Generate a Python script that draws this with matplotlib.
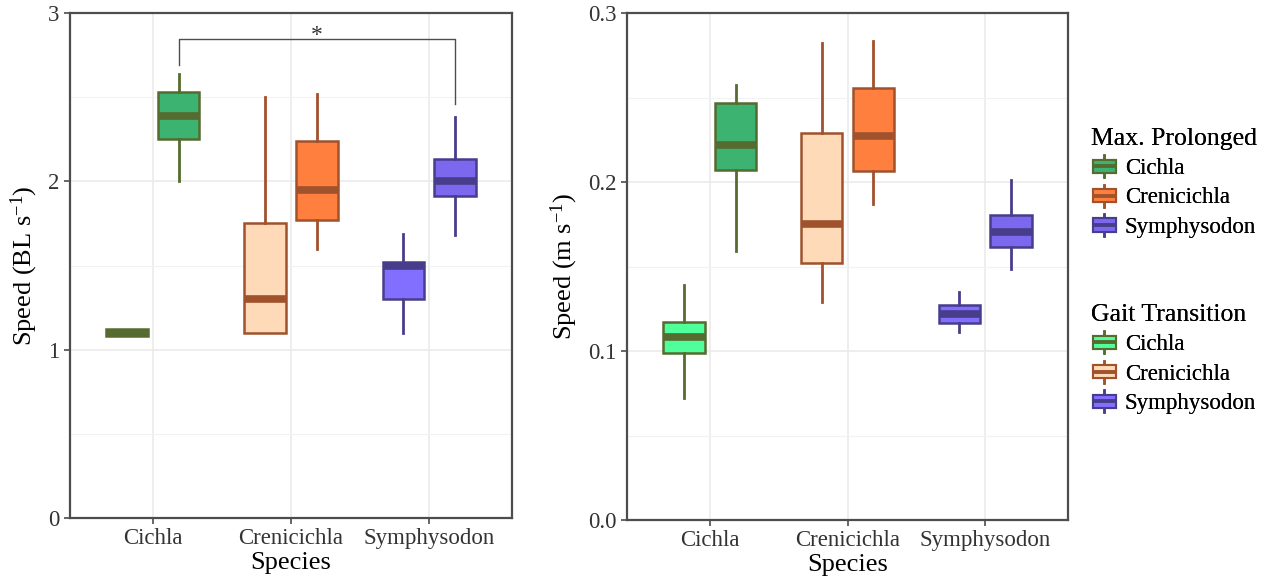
import matplotlib
matplotlib.use('Agg')
import matplotlib.pyplot as plt
from matplotlib.patches import Patch, Rectangle
from matplotlib.lines import Line2D
from matplotlib.legend_handler import HandlerBase

species = ['Cichla', 'Crenicichla', 'Symphysodon']

# body lengths per second
gait_bl_whislo = [1.08, 1.10, 1.10]
gait_bl_q1 = [1.08, 1.10, 1.30]
gait_bl_med = [1.10, 1.30, 1.50]
gait_bl_q3 = [1.12, 1.75, 1.52]
gait_bl_whishi = [1.12, 2.50, 1.69]

max_bl_whislo = [2.00, 1.60, 1.68]
max_bl_q1 = [2.25, 1.77, 1.91]
max_bl_med = [2.39, 1.95, 2.00]
max_bl_q3 = [2.53, 2.24, 2.135]
max_bl_whishi = [2.64, 2.52, 2.38]

# metres per second
gait_ms_whislo = [0.072, 0.129, 0.111]
gait_ms_q1 = [0.099, 0.152, 0.1165]
gait_ms_med = [0.108, 0.175, 0.122]
gait_ms_q3 = [0.117, 0.229, 0.127]
gait_ms_whishi = [0.139, 0.282, 0.135]

max_ms_whislo = [0.159, 0.187, 0.1485]
max_ms_q1 = [0.207, 0.2065, 0.1616]
max_ms_med = [0.222, 0.227, 0.1705]
max_ms_q3 = [0.2465, 0.2555, 0.1806]
max_ms_whishi = [0.2575, 0.2835, 0.201]

max_fill = ['#3CB371', '#FF7F3F', '#7B68EE']
gait_fill = ['#4EFF9A', '#FFDAB9', '#836FFF']
edge = ['#556B2F', '#A0522D', '#483D8B']

plt.rcParams['font.family'] = ['Liberation Serif', 'DejaVu Serif']
plt.rcParams['mathtext.fontset'] = 'custom'
plt.rcParams['mathtext.rm'] = 'Liberation Serif'
plt.rcParams['mathtext.it'] = 'Liberation Serif'

dodge = 0.1875
box_w = 0.30
grey = '#4D4D4D'


def make_stats(lo, q1, med, q3, hi):
    return [dict(whislo=lo[i], q1=q1[i], med=med[i], q3=q3[i], whishi=hi[i], fliers=[])
            for i in range(len(lo))]


def draw_group(ax, stats, offset, fills):
    for i, st in enumerate(stats):
        ax.bxp([st], positions=[i + 1 + offset], widths=box_w, patch_artist=True,
               showcaps=False, showfliers=False,
               boxprops=dict(facecolor=fills[i], edgecolor=edge[i], linewidth=1.8),
               whiskerprops=dict(color=edge[i], linewidth=2.0),
               medianprops=dict(color=edge[i], linewidth=5.5, solid_capstyle='butt'),
               manage_ticks=False)


def style_axes(ax, ymax, major, ticklabels, ylabel):
    ax.set_xlim(0.4, 3.6)
    ax.set_ylim(0, ymax)
    ax.set_yticks(major)
    ax.set_yticklabels(ticklabels)
    ax.set_yticks([m + major[1] / 2 for m in major[:-1]], minor=True)
    ax.set_xticks([1, 2, 3])
    ax.set_xticklabels(species)
    ax.grid(True, which='major', color='#EBEBEB', linewidth=1.2, zorder=0)
    ax.grid(True, which='minor', axis='y', color='#F2F2F2', linewidth=0.8, zorder=0)
    ax.set_axisbelow(True)
    ax.tick_params(axis='both', which='major', labelsize=16.5, labelcolor='#333333',
                   color=grey, length=4, width=1.2)
    ax.tick_params(axis='y', which='minor', length=0)
    for s in ax.spines.values():
        s.set_color(grey)
        s.set_linewidth(1.6)
    ax.set_xlabel('Species', fontsize=19, labelpad=2)
    ax.set_ylabel(ylabel, fontsize=19, labelpad=6)


fig = plt.figure(figsize=(12.71, 5.83), dpi=100)
ax1 = fig.add_axes([70 / 1271, 65 / 583, 442 / 1271, 505 / 583])
ax2 = fig.add_axes([627 / 1271, 63 / 583, 441 / 1271, 507 / 583])

draw_group(ax1, make_stats(gait_bl_whislo, gait_bl_q1, gait_bl_med, gait_bl_q3, gait_bl_whishi),
           -dodge, gait_fill)
draw_group(ax1, make_stats(max_bl_whislo, max_bl_q1, max_bl_med, max_bl_q3, max_bl_whishi),
           dodge, max_fill)
style_axes(ax1, 3, [0, 1, 2, 3], ['0', '1', '2', '3'], 'Speed (BL s$^{-1}$)')

# significance bracket between the max prolonged Cichla and Symphysodon boxes
x_a, x_b = 1 + dodge, 3 + dodge
y_top = 2.846
ax1.plot([x_a, x_a, x_b, x_b], [max_bl_whishi[0] + 0.05, y_top, y_top, max_bl_whishi[2] + 0.08],
         color=grey, linewidth=1.0)
ax1.text((x_a + x_b) / 2, y_top - 0.015, '*', ha='center', va='baseline', fontsize=17,
         color='#333333')

draw_group(ax2, make_stats(gait_ms_whislo, gait_ms_q1, gait_ms_med, gait_ms_q3, gait_ms_whishi),
           -dodge, gait_fill)
draw_group(ax2, make_stats(max_ms_whislo, max_ms_q1, max_ms_med, max_ms_q3, max_ms_whishi),
           dodge, max_fill)
style_axes(ax2, 0.3, [0.0, 0.1, 0.2, 0.3], ['0.0', '0.1', '0.2', '0.3'], 'Speed (m s$^{-1}$)')


class BoxKey(HandlerBase):
    def create_artists(self, legend, orig_handle, xdescent, ydescent, width, height, fontsize, trans):
        fc = orig_handle.get_facecolor()
        ec = orig_handle.get_edgecolor()
        cx = width / 2 - xdescent
        cy = height / 2 - ydescent
        bh = height * 0.62
        whisk = Line2D([cx, cx], [cy - height * 0.52, cy + height * 0.52], color=ec,
                       linewidth=1.8, transform=trans)
        box = Rectangle((-xdescent + width * 0.08, cy - bh / 2), width * 0.84, bh,
                        facecolor=fc, edgecolor=ec, linewidth=1.5, transform=trans)
        med = Line2D([-xdescent + width * 0.08, -xdescent + width * 0.92], [cy, cy], color=ec,
                     linewidth=2.8, solid_capstyle='butt', transform=trans)
        return [whisk, box, med]


max_handles = [Patch(facecolor=max_fill[i], edgecolor=edge[i]) for i in range(3)]
gait_handles = [Patch(facecolor=gait_fill[i], edgecolor=edge[i]) for i in range(3)]

for handles, title, top in [(max_handles, 'Max. Prolonged', 0.781),
                            (gait_handles, 'Gait Transition', 0.479)]:
    leg = fig.legend(handles, species, title=title, loc='upper left',
                     bbox_to_anchor=(0.858, top), frameon=False, fontsize=16.5,
                     title_fontsize=18.5, handler_map={Patch: BoxKey()},
                     handlelength=1.2, handleheight=1.05, handletextpad=0.3,
                     labelspacing=0.26, borderaxespad=0, borderpad=0)
    leg._legend_box.align = 'left'
    fig.add_artist(leg)

fig.savefig('out.png', dpi=100, facecolor='white')
